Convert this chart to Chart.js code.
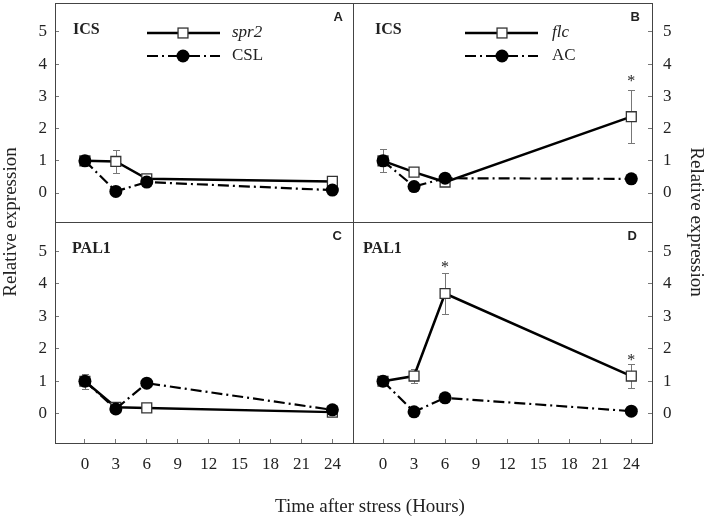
<!DOCTYPE html>
<html>
<head>
<meta charset="utf-8">
<script src="https://cdn.jsdelivr.net/npm/chart.js@4.4.1/dist/chart.umd.min.js"></script>
<style>
  body { margin: 0; background: #fff; }
  #wrap { position: relative; width: 708px; height: 519px; }
  #wrap canvas { position: absolute; left: 0; top: 0; }
</style>
</head>
<body>
<div id="wrap">
  <canvas id="panelA" width="708" height="519"></canvas>
  <canvas id="panelB" width="708" height="519"></canvas>
  <canvas id="panelC" width="708" height="519"></canvas>
  <canvas id="panelD" width="708" height="519"></canvas>
</div>
<script>
// sampling times (hours) and axis ticks
const hours = [0, 3, 6, 24];
const xTicks = [0, 3, 6, 9, 12, 15, 18, 21, 24];
const yTicks = [0, 1, 2, 3, 4, 5];

// A - ICS, spr2 vs CSL
const icsSpr2 = [1.0, 0.98, 0.44, 0.36];
const icsSpr2Err = [0.12, 0.37, 0, 0];
const icsCsl = [1.0, 0.05, 0.34, 0.09];

// B - ICS, flc vs AC
const icsFlc = [1.0, 0.65, 0.34, 2.37];
const icsFlcErr = [0.36, 0, 0, 0.83];
const icsFlcSig = [null, null, null, 3.57];
const icsAc = [1.0, 0.2, 0.46, 0.44];

// C - PAL1, spr2 vs CSL
const palSpr2 = [1.0, 0.2, 0.18, 0.05];
const palSpr2Err = [0.23, 0, 0, 0];
const palCsl = [1.0, 0.15, 0.94, 0.12];

// D - PAL1, flc vs AC
const palFlc = [1.0, 1.16, 3.7, 1.16];
const palFlcErr = [0, 0.22, 0.63, 0.38];
const palFlcSig = [null, null, 4.59, 1.73];
const palAc = [1.0, 0.06, 0.49, 0.08];

const serif = "'Liberation Serif', 'Times New Roman', serif";
const colEdges = [55, 353, 652];
const rowEdges = [3, 222, 443];

function pts(vals) {
    return hours.map((h, i) => ({ x: h, y: vals[i] }));
}

function drawMarker(ctx, ds, x, y) {
    ctx.save();
    ctx.setLineDash([]);
    if (ds.pointStyle === 'rect') {
        const s = 2 * ds.pointRadius * Math.SQRT1_2;
        ctx.fillStyle = ds.pointBackgroundColor;
        ctx.strokeStyle = ds.pointBorderColor;
        ctx.lineWidth = ds.pointBorderWidth;
        ctx.fillRect(x - s / 2, y - s / 2, s, s);
        ctx.strokeRect(x - s / 2, y - s / 2, s, s);
    } else {
        ctx.fillStyle = ds.pointBackgroundColor;
        ctx.beginPath();
        ctx.arc(x, y, ds.pointRadius, 0, Math.PI * 2);
        ctx.fill();
    }
    ctx.restore();
}

//error bars, asterisks, frame, labels and legend
const panelDecor = {
    id: 'panelDecor',
    beforeDatasetsDraw(chart) {
        const { ctx, scales: { x, y } } = chart;
        ctx.save();
        ctx.strokeStyle = '#777';
        ctx.lineWidth = 1;
        chart.data.datasets.forEach(ds => {
            if (!ds.err) return;
            ds.data.forEach((p, i) => {
                const e = ds.err[i];
                if (!e) return;
                const px = Math.round(x.getPixelForValue(p.x)) + 0.5;
                const y1 = Math.round(y.getPixelForValue(p.y + e)) + 0.5;
                const y2 = Math.round(y.getPixelForValue(p.y - e)) + 0.5;
                ctx.beginPath();
                ctx.moveTo(px, y1); ctx.lineTo(px, y2);
                ctx.moveTo(px - 3.5, y1); ctx.lineTo(px + 3.5, y1);
                ctx.moveTo(px - 3.5, y2); ctx.lineTo(px + 3.5, y2);
                ctx.stroke();
            });
        });
        ctx.restore();
    },
    afterDatasetsDraw(chart, args, opts) {
        const { ctx, chartArea: area, scales: { x, y } } = chart;
        ctx.save();

        // frame
        ctx.strokeStyle = '#444';
        ctx.lineWidth = 1;
        ctx.strokeRect(Math.round(area.left) + 0.5, Math.round(area.top) + 0.5,
            Math.round(area.right - area.left), Math.round(area.bottom - area.top));

        // significance stars
        ctx.fillStyle = '#222';
        ctx.font = '16px ' + serif;
        ctx.textAlign = 'center';
        ctx.textBaseline = 'alphabetic';
        chart.data.datasets.forEach(ds => {
            if (!ds.sig) return;
            ds.sig.forEach((v, i) => {
                if (v == null) return;
                ctx.fillText('*', x.getPixelForValue(hours[i]), y.getPixelForValue(v) + 7.5);
            });
        });

        // gene name
        ctx.textAlign = 'left';
        ctx.font = 'bold 16px ' + serif;
        ctx.fillText(opts.gene, area.left + opts.geneX, area.top + 30.5);

        // panel letter
        ctx.textAlign = 'right';
        ctx.font = "bold 13px 'Liberation Sans', Arial, sans-serif";
        ctx.fillText(opts.letter, area.right - opts.letterDX, area.top + 17.5);

        // legend
        if (opts.legend) {
            const lg = opts.legend;
            const rows = [30, 53];
            chart.data.datasets.forEach((ds, i) => {
                const yy = area.top + rows[i];
                ctx.strokeStyle = ds.borderColor;
                ctx.lineWidth = ds.borderWidth;
                ctx.setLineDash(ds.borderDash || []);
                ctx.beginPath();
                ctx.moveTo(area.left + lg.x0, yy);
                ctx.lineTo(area.left + lg.x1, yy);
                ctx.stroke();
                ctx.setLineDash([]);
                drawMarker(ctx, ds, area.left + lg.xm, yy);
                ctx.fillStyle = '#222';
                ctx.textAlign = 'left';
                ctx.textBaseline = 'middle';
                ctx.font = (ds.italic ? 'italic ' : '') + '17px ' + serif;
                ctx.fillText(ds.label, area.left + lg.xt, yy);
            });
        }
        ctx.restore();
    }
};

//shared axis titles
const figureText = {
    id: 'figureText',
    afterDraw(chart) {
        const ctx = chart.ctx;
        ctx.save();
        ctx.fillStyle = '#222';
        ctx.font = '19px ' + serif;
        ctx.textAlign = 'center';
        ctx.textBaseline = 'alphabetic';
        ctx.fillText('Time after stress (Hours)', 370, 512);

        ctx.translate(16, 222);
        ctx.rotate(-Math.PI / 2);
        ctx.fillText('Relative expression', 0, 0);
        ctx.restore();

        ctx.save();
        ctx.fillStyle = '#222';
        ctx.font = '19px ' + serif;
        ctx.textAlign = 'center';
        ctx.translate(691, 222);
        ctx.rotate(Math.PI / 2);
        ctx.fillText('Relative expression', 0, 0);
        ctx.restore();
    }
};

Chart.register(panelDecor);

function makePanel(id, p) {
    const left = colEdges[p.col], right = colEdges[p.col + 1];
    const top = rowEdges[p.row], bottom = rowEdges[p.row + 1];
    const showX = p.row === 1;

    const ctx = document.getElementById(id).getContext('2d');
    return new Chart(ctx, {
        type: 'line',
        data: {
            datasets: [{
                label: p.mutant,
                data: pts(p.mutVals),
                err: p.mutErr,
                sig: p.mutSig,
                italic: true,
                borderColor: '#000',
                borderWidth: 2.5,
                pointStyle: 'rect',
                pointRadius: 7,
                pointBackgroundColor: '#fff',
                pointBorderColor: '#333',
                pointBorderWidth: 1.3,
                order: 1
            }, {
                label: p.control,
                data: pts(p.ctlVals),
                borderColor: '#000',
                borderWidth: 2.2,
                borderDash: [11, 4, 2, 4],
                pointStyle: 'circle',
                pointRadius: 6.5,
                pointBackgroundColor: '#000',
                pointBorderColor: '#000',
                pointBorderWidth: 0,
                order: 0
            }]
        },
        options: {
            responsive: false,
            animation: false,
            events: [],
            layout: {
                autoPadding: false,
                padding: {
                    left: p.col === 0 ? 0 : left,
                    right: p.col === 0 ? 708 - right : 0,
                    top: top,
                    bottom: showX ? 0 : 519 - bottom
                }
            },
            scales: {
                x: {
                    type: 'linear',
                    min: -2.9,
                    max: 26,
                    afterBuildTicks: s => { s.ticks = xTicks.map(v => ({ value: v })); },
                    afterFit: s => {
                        s.height = showX ? 519 - bottom : 0;
                        s.paddingLeft = 0; s.paddingRight = 0;
                    },
                    ticks: {
                        display: showX,
                        autoSkip: false,
                        maxRotation: 0,
                        padding: 15,
                        color: '#222',
                        font: { family: serif, size: 17 }
                    },
                    grid: {
                        display: showX,
                        drawOnChartArea: false,
                        tickLength: -4,
                        color: '#777'
                    },
                    border: { display: false }
                },
                y: {
                    type: 'linear',
                    position: p.col === 0 ? 'left' : 'right',
                    min: -0.9,
                    max: 5.9,
                    afterBuildTicks: s => { s.ticks = yTicks.map(v => ({ value: v })); },
                    afterFit: s => {
                        s.width = p.col === 0 ? left : 708 - right;
                        s.paddingTop = 0; s.paddingBottom = 0;
                    },
                    ticks: {
                        padding: p.col === 0 ? 12 : 15,
                        color: '#222',
                        font: { family: serif, size: 17 }
                    },
                    grid: {
                        drawOnChartArea: false,
                        tickLength: -4,
                        color: '#777'
                    },
                    border: { display: false }
                }
            },
            plugins: {
                legend: { display: false },
                tooltip: { enabled: false },
                panelDecor: {
                    gene: p.gene,
                    geneX: p.geneX,
                    letter: p.letter,
                    letterDX: p.letterDX,
                    legend: p.legend
                }
            }
        },
        plugins: p.extra ? [p.extra] : []
    });
}

makePanel('panelA', {
    col: 0, row: 0, gene: 'ICS', geneX: 18, letter: 'A', letterDX: 10,
    mutant: 'spr2', control: 'CSL',
    mutVals: icsSpr2, mutErr: icsSpr2Err, ctlVals: icsCsl,
    legend: { x0: 92, x1: 165, xm: 128, xt: 177 }
});

makePanel('panelB', {
    col: 1, row: 0, gene: 'ICS', geneX: 22, letter: 'B', letterDX: 12,
    mutant: 'flc', control: 'AC',
    mutVals: icsFlc, mutErr: icsFlcErr, mutSig: icsFlcSig, ctlVals: icsAc,
    legend: { x0: 112, x1: 185, xm: 149, xt: 199 }
});

makePanel('panelC', {
    col: 0, row: 1, gene: 'PAL1', geneX: 17, letter: 'C', letterDX: 11,
    mutant: 'spr2', control: 'CSL',
    mutVals: palSpr2, mutErr: palSpr2Err, ctlVals: palCsl
});

makePanel('panelD', {
    col: 1, row: 1, gene: 'PAL1', geneX: 10, letter: 'D', letterDX: 15,
    mutant: 'flc', control: 'AC',
    mutVals: palFlc, mutErr: palFlcErr, mutSig: palFlcSig, ctlVals: palAc,
    extra: figureText
});
</script>
</body>
</html>
